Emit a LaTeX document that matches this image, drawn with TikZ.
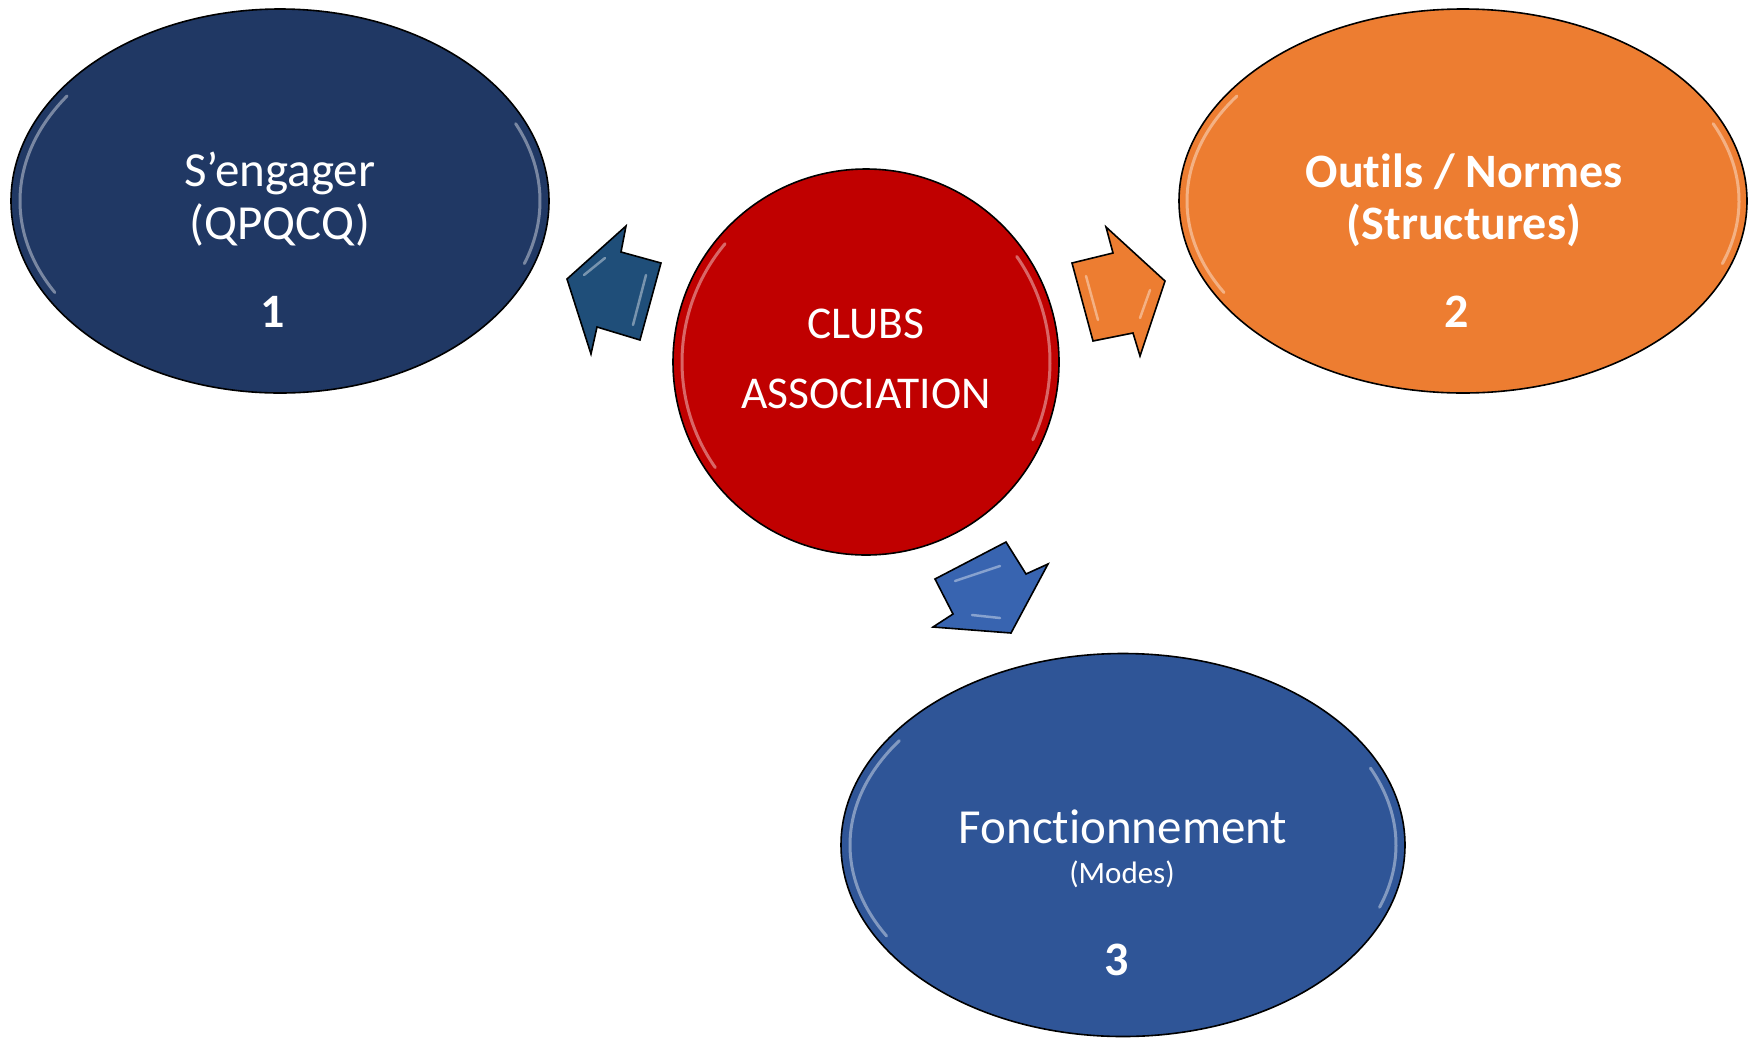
\documentclass[tikz,border=0pt]{standalone}
\usepackage{fontspec}
\setmainfont[Ligatures=NoCommon]{Carlito}
\usetikzlibrary{shapes.geometric}
\definecolor{navy}{HTML}{203864}
\definecolor{orng}{HTML}{ED7D31}
\definecolor{blu}{HTML}{2F5597}
\definecolor{rd}{HTML}{C00000}
\definecolor{arrL}{HTML}{1F4E79}
\definecolor{arrB}{HTML}{3864B0}
\begin{document}
\begin{tikzpicture}[x=1pt,y=-1pt,
  bubble/.style={ellipse,draw=black,line width=1.6pt,inner sep=0pt},
  lbl/.style={text=white,inner sep=0pt,anchor=base,font=\fontsize{49}{55}\selectfont},
  lblc/.style={lbl,font=\fontsize{45.5}{52}\selectfont},
  lblb/.style={lbl,font=\fontsize{48}{54}\selectfont\bfseries},
  lbls/.style={lbl,font=\fontsize{31}{36}\selectfont},
  shine/.style={white,line width=3pt,opacity=.4,line cap=round},
  arrowshape/.style={draw=black,line width=1.6pt,line join=miter}]
\useasboundingbox (0,0) rectangle (1749,1037);
% shapes
\node[bubble,fill=navy,minimum width=538pt,minimum height=384pt] (e1) at (280,201) {};
\node[bubble,fill=orng,minimum width=568pt,minimum height=384pt] (e2) at (1463,201) {};
\node[bubble,fill=blu,minimum width=564pt,minimum height=383pt] (e3) at (1123,845) {};
\node[circle,draw=black,line width=1.6pt,fill=rd,minimum size=386pt,inner sep=0pt] (c) at (866,362) {};
% highlights
\draw[shine] (280,201) ++(150:260 and 183) arc[start angle=150,end angle=215,x radius=260,y radius=183];
\draw[shine] (280,201) ++(-25:260 and 183) arc[start angle=-25,end angle=20,x radius=260,y radius=183];
\draw[shine] (1463,201) ++(150:276 and 183) arc[start angle=150,end angle=215,x radius=276,y radius=183];
\draw[shine] (1463,201) ++(-25:276 and 183) arc[start angle=-25,end angle=20,x radius=276,y radius=183];
\draw[shine] (1123,845) ++(150:273 and 182) arc[start angle=150,end angle=215,x radius=273,y radius=182];
\draw[shine] (1123,845) ++(-25:273 and 182) arc[start angle=-25,end angle=20,x radius=273,y radius=182];
\draw[shine] (866,362) ++(145:184) arc[start angle=145,end angle=220,radius=184];
\draw[shine] (866,362) ++(-35:184) arc[start angle=-35,end angle=25,radius=184];
% arrows
\draw[arrowshape,fill=arrL] (567,279) -- (626,226) -- (621,252) -- (661,263) -- (640,340) -- (597,327) -- (591,354) -- cycle;
\draw[arrowshape,fill=orng] (1072,263) -- (1113,253) -- (1106,227) -- (1165,281) -- (1140,356) -- (1133,333) -- (1093,341) -- cycle;
\draw[arrowshape,fill=arrB] (935,579) -- (1006,542) -- (1026,574) -- (1048,564) -- (1011,633) -- (933,627) -- (953,614) -- cycle;
\draw[shine,line width=2.5pt] (584,275) -- (605,258);
\draw[shine,line width=2.5pt] (646,275) -- (633,325);
\draw[shine,line width=2.5pt] (1086,276) -- (1098,320);
\draw[shine,line width=2.5pt] (1150,290) -- (1140,318);
\draw[shine,line width=2.5pt] (955,581) -- (1000,566);
\draw[shine,line width=2.5pt] (972,615) -- (1000,618);
% texts
\node[lbl] (t1a) at (280,186) {S’engager};
\node[lbl] (t1b) at (280,239) {(QPQCQ)};
\node[lblb] (t1c) at (273,327) {1};
\node[lblb] (t2a) at (1464,187) {Outils / Normes};
\node[lblb] (t2b) at (1464,239) {(Structures)};
\node[lblb] (t2c) at (1457,327) {2};
\node[lblc] (tca) at (866,338) {CLUBS};
\node[lblc] (tcb) at (866,408) {ASSOCIATION};
\node[lbl] (t3a) at (1123,843) {Fonctionnement};
\node[lbls] (t3b) at (1122,883) {(Modes)};
\node[lblb] (t3c) at (1117,975) {3};
\end{tikzpicture}
\end{document}
